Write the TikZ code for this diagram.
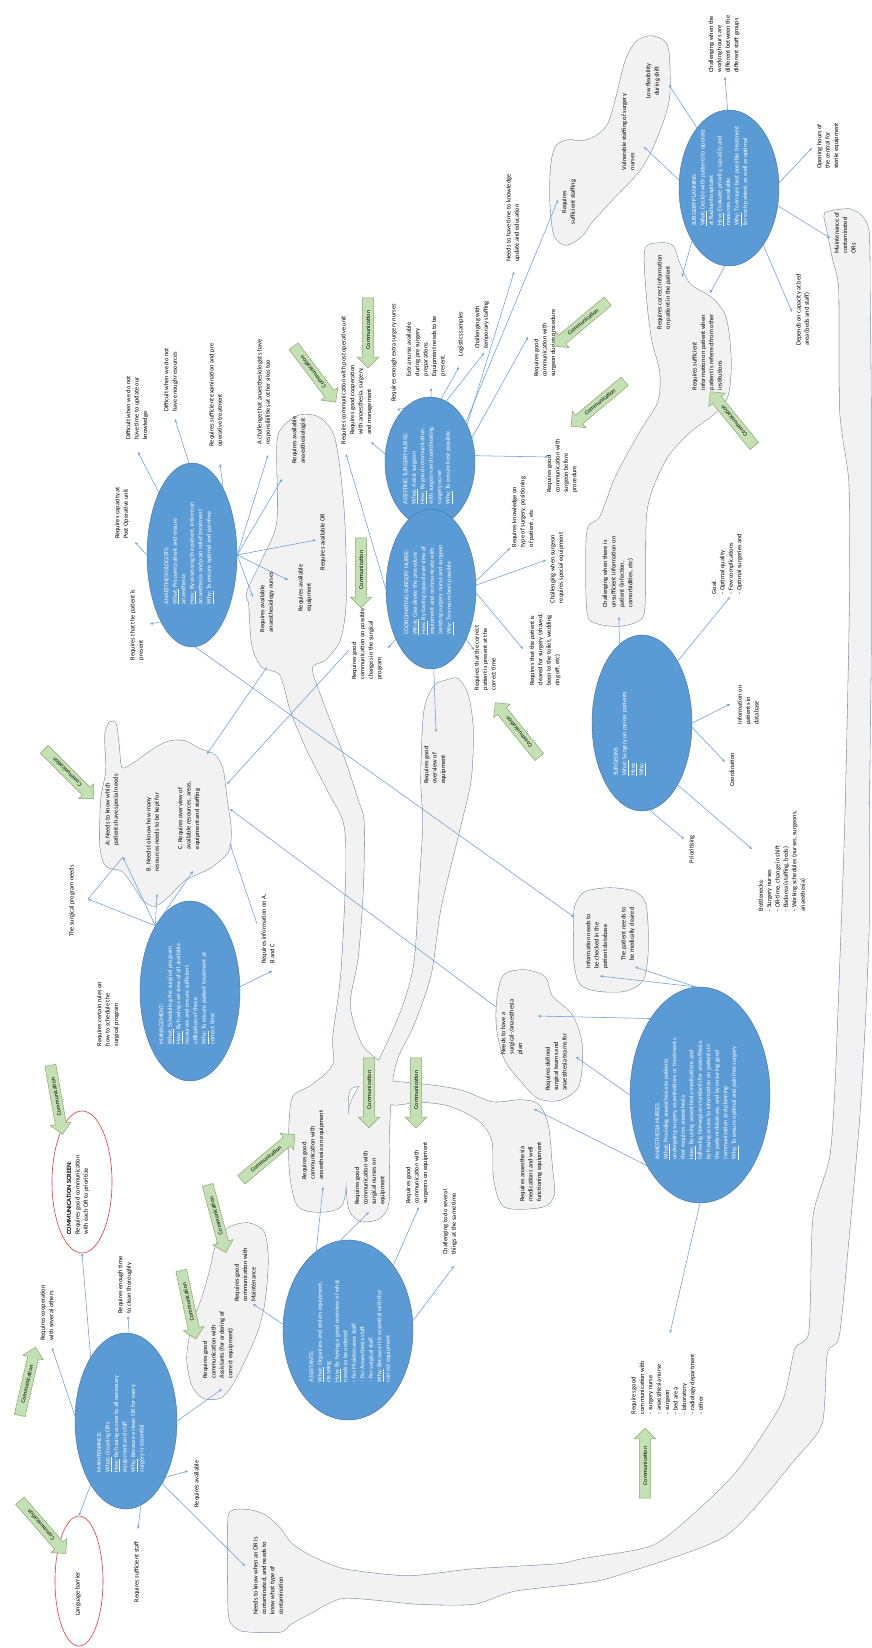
\documentclass[tikz,border=0pt]{standalone}
\usepackage{fontspec}
\setmainfont{Carlito}
\usetikzlibrary{shapes.geometric,shapes.arrows,arrows.meta}
\definecolor{ellblue}{HTML}{5B9BD5}
\definecolor{ellline}{HTML}{41719C}
\definecolor{connblue}{HTML}{6A9FD8}
\definecolor{blobfill}{HTML}{F2F2F2}
\definecolor{blobline}{HTML}{7F8FA6}
\definecolor{commfill}{HTML}{C5E0B4}
\definecolor{commline}{HTML}{86AA6C}
\definecolor{ringred}{HTML}{E8383D}
\newcommand\shpMaint{plot[smooth cycle,tension=0.4] coordinates {(825,213) (849,209) (862,216) (869,233) (870,300) (871,412) (871,645) (869,824) (869,924) (865,1024) (859,1124) (849,1236) (839,1336) (827,1353) (822,1423) (795,1459) (725,1536) (615,1576) (582,1583) (514,1591) (474,1604) (418,1604) (344,1598) (311,1613) (291,1624) (280,1632) (242,1631) (230,1621) (228,1600) (228,1520) (234,1510) (250,1510) (265,1515) (280,1528) (291,1543) (311,1556) (344,1569) (408,1576) (474,1569) (558,1564) (582,1559) (652,1546) (695,1513) (739,1469) (782,1403) (795,1349) (809,1333) (812,1236) (815,1207) (830,1157) (835,1091) (839,991) (845,824) (849,645) (850,562) (849,480) (840,412) (839,290) (833,260) (827,230)}}
\newcommand\shpStaff{plot[smooth cycle,tension=0.5] coordinates {(551,165) (556,146) (568,140) (582,141) (596,136) (608,124) (616,98) (625,62) (636,42) (650,36) (664,41) (669,55) (669,100) (656,140) (640,170) (612,200) (592,222) (582,236) (566,245) (554,235) (550,200)}}
\newcommand\shpInfo{plot[smooth cycle,tension=0.5] coordinates {(645,250) (660,243) (673,246) (679,262) (690,284) (712,298) (726,318) (731,360) (728,395) (715,413) (690,432) (668,456) (652,490) (646,520) (645,600) (641,619) (620,626) (596,623) (587,610) (587,532) (600,517) (616,476) (640,432) (658,402) (660,372) (652,340) (647,300)}}
\newcommand\shpAnae{plot[smooth cycle,tension=0.5] coordinates {(283,427) (300,415) (320,418) (335,440) (344,512) (346,599) (340,640) (325,660) (312,668) (322,700) (342,752) (358,800) (364,824) (363,891) (358,957) (350,1005) (362,1045) (385,1068) (372,1085) (350,1090) (348,1130) (347,1170) (342,1205) (320,1212) (298,1206) (290,1175) (289,1130) (293,1097) (312,1085) (333,1065) (333,1037) (341,974) (346,874) (344,824) (330,795) (308,752) (291,712) (280,675) (262,667) (252,645) (249,605) (247,592) (262,560) (277,522) (277,445)}}
\newcommand\shpEquip{plot[smooth cycle,tension=0.5] coordinates {(434,686) (447,680) (458,679) (468,695) (473,729) (471,779) (461,824) (441,907) (431,974) (414,1024) (398,1057) (392,1085) (389,1140) (389,1200) (380,1218) (360,1221) (348,1205) (346,1150) (350,1105) (365,1078) (378,1062) (401,1011) (414,964) (419,891) (423,824) (421,779) (424,712)}}
\newcommand\shpMed{plot[smooth cycle,tension=0.5] coordinates {(375,1082) (420,1084) (460,1090) (492,1102) (520,1100) (538,1104) (548,1125) (552,1165) (554,1195) (542,1207) (505,1207) (494,1180) (492,1140) (478,1120) (450,1106) (420,1102) (390,1104)}}
\newcommand\shpMgmt{plot[smooth cycle,tension=0.5] coordinates {(106,770) (105,735) (110,722) (116,724) (119,745) (122,768) (135,762) (155,748) (170,741) (185,741) (200,749) (215,755) (223,770) (227,800) (231,830) (228,852) (210,868) (185,880) (170,895) (155,906) (143,900) (133,885) (122,871) (106,866) (100,845) (101,800)}}
\newcommand\shpPlan{plot[smooth cycle,tension=0.5] coordinates {(497,1000) (504,975) (525,970) (545,977) (552,996) (572,1015) (582,1045) (579,1085) (560,1100) (538,1098) (520,1080) (505,1060) (497,1030)}}
\newcommand\shpCheck{plot[smooth cycle,tension=0.5] coordinates {(575,906) (585,892) (610,888) (635,892) (646,906) (648,950) (643,980) (625,991) (598,991) (580,984) (574,960) (574,925)}}
\newcommand\shpAsst{plot[smooth cycle,tension=0.5] coordinates {(228,1228) (248,1223) (264,1232) (268,1260) (265,1300) (258,1330) (245,1360) (232,1385) (220,1398) (203,1398) (192,1385) (187,1358) (192,1325) (202,1298) (210,1270) (216,1245)}}
\begin{document}
\begin{tikzpicture}[x=1pt,y=-1pt,
  blobedge/.style={draw=blobline,line width=1.1pt},
  blobbody/.style={fill=blobfill},
  bell/.style={ellipse,fill=ellblue,draw=ellline,line width=0.4pt,inner sep=0pt},
  etext/.style={rotate=90,text=white,font=\fontsize{6.2}{8.5}\selectfont,align=left,inner sep=0pt},
  lbl/.style={rotate=90,font=\fontsize{6.4}{8.4}\selectfont,align=left,inner sep=0pt},
  clbl/.style={lbl,align=center},
  conn/.style={draw=connblue,line width=0.55pt,-{Stealth[length=3.2pt,width=2.6pt]}},
  plain/.style={draw=connblue,line width=0.55pt},
  comm/.style={single arrow,draw=commline,fill=commfill,line width=0.5pt,font=\fontsize{6}{6.5}\selectfont,minimum height=70pt,single arrow head extend=5pt,inner xsep=2pt,inner ysep=3.2pt},
  ring/.style={ellipse,draw=ringred,line width=0.6pt,inner sep=0pt}]
\useasboundingbox (0,0) rectangle (872,1648);
\fill[white] (0,0) rectangle (872,1648);

% ---------- blobs: borders then fills ----------
\draw[blobedge] \shpMaint;
\draw[blobedge] \shpStaff;
\draw[blobedge] \shpInfo;
\draw[blobedge] \shpAnae;
\draw[blobedge] \shpEquip;
\draw[blobedge] \shpMed;
\draw[blobedge] \shpMgmt;
\draw[blobedge] \shpPlan;
\draw[blobedge] \shpCheck;
\draw[blobedge] \shpAsst;
\fill[blobbody] \shpMaint;
\fill[blobbody] \shpStaff;
\fill[blobbody] \shpInfo;
\fill[blobbody] \shpAnae;
\fill[blobbody] \shpEquip;
\fill[blobbody] \shpMed;
\fill[blobbody] \shpMgmt;
\fill[blobbody] \shpPlan;
\fill[blobbody] \shpCheck;
\fill[blobbody] \shpAsst;

% ---------- ellipses ----------
\node[bell,minimum width=100pt,minimum height=156pt] (E1) at (729,188) {};
\node[bell,minimum width=90pt,minimum height=130pt] (E2) at (430,462) {};
\node[bell,minimum width=90pt,minimum height=160pt] (E3) at (431,589) {};
\node[bell,minimum width=90pt,minimum height=184pt] (E4) at (192,555) {};
\node[bell,minimum width=100pt,minimum height=180pt] (E5) at (190,991) {};
\node[bell,minimum width=100pt,minimum height=176pt] (E6) at (642,723) {};
\node[bell,minimum width=140pt,minimum height=216pt] (E7) at (700,1095) {};
\node[bell,minimum width=130pt,minimum height=180pt] (E8) at (348,1330) {};
\node[bell,minimum width=102pt,minimum height=176pt] (E9) at (126,1421) {};
\node[ring,minimum width=60pt,minimum height=142pt] (R1) at (82,1182) {};
\node[ring,minimum width=48pt,minimum height=130pt] (R2) at (79,1581) {};

% ---------- connector end points ----------
\coordinate (a1) at (669,85);  \coordinate (a2) at (644,147);
\coordinate (a3) at (725,77);  \coordinate (a4) at (812,148);
\coordinate (a5) at (830,238); \coordinate (a6) at (792,312);
\coordinate (a7) at (682,277); \coordinate (a8) at (710,293);
\coordinate (b1) at (514,272); \coordinate (b2) at (558,200);
\coordinate (b3) at (528,337); \coordinate (b4) at (484,353);
\coordinate (b5) at (459,367); \coordinate (b6) at (431,388);
\coordinate (b7) at (397,410); \coordinate (b8) at (371,442);
\coordinate (b9) at (548,457);
\coordinate (c1) at (510,548); \coordinate (c2) at (546,560);
\coordinate (c3) at (523,649); \coordinate (c4) at (474,650);
\coordinate (c5) at (388,648); \coordinate (c6) at (436,732);
\coordinate (c7) at (346,454);
\coordinate (d1) at (135,542); \coordinate (d2) at (150,624);
\coordinate (d3) at (138,452); \coordinate (d4) at (175,419);
\coordinate (d5) at (220,464); \coordinate (d6) at (268,455);
\coordinate (d7) at (282,479); \coordinate (d8) at (316,540);
\coordinate (d9) at (288,580); \coordinate (d10) at (253,597);
\coordinate (d11) at (574,917);
\coordinate (e1) at (123,857); \coordinate (e2) at (157,894);
\coordinate (e3) at (193,871); \coordinate (e4) at (88,899);
\coordinate (e5) at (272,971); \coordinate (e6) at (257,924);
\coordinate (e7) at (230,844);
\coordinate (f1) at (619,617); \coordinate (f2) at (730,597);
\coordinate (f3) at (730,704); \coordinate (f4) at (725,762);
\coordinate (f5) at (684,839); \coordinate (f6) at (752,849);
\coordinate (g1) at (600,976); \coordinate (g2) at (635,967);
\coordinate (g3) at (538,1016); \coordinate (g4) at (576,1057);
\coordinate (g5) at (534,1109); \coordinate (g6) at (670,1333);
\coordinate (h1) at (230,809); \coordinate (h2) at (496,1007);
\coordinate (h3) at (207,754); \coordinate (h4) at (267,667);
\coordinate (h5) at (227,784); \coordinate (h6) at (349,650);
\coordinate (k1) at (323,1187); \coordinate (k2) at (369,1212);
\coordinate (k3) at (419,1207); \coordinate (k4) at (454,1266);
\coordinate (k5) at (253,1304);
\coordinate (m1) at (128,1316); \coordinate (m3) at (52,1348);
\coordinate (m5) at (138,1529); \coordinate (m6) at (188,1471);
\coordinate (m7) at (245,1566); \coordinate (m8) at (222,1389);

% ---------- connectors ----------
\draw[conn] (E1.118) -- (a1);
\draw[conn] (E1.171) -- (a2);
\draw[conn] (E1.91) -- (a3);
\draw[conn] (E1.6) -- (a4);
\draw[conn] (E1.-20) -- (a5);
\draw[conn] (E1.-59) -- (a6);
\draw[conn] (E1.235) -- (a7);
\draw[conn] (E1.267) -- (a8);

\draw[conn] (E2.45) -- (b1);
\draw[conn] (E2.48) -- (b2);
\draw[conn] (E2.30) -- (b3);
\draw[conn] (E2.75) -- (b4);
\draw[conn] (E2.80) -- (b5);
\draw[conn] (E2.89) -- (b6);
\draw[conn] (E2.115) -- (b7);
\draw[conn] (E2.170) -- (b8);
\draw[conn] (E2.8) -- (b9);

\draw[conn] (E3.10) -- (c1);
\draw[conn] (E3.5) -- (c2);
\draw[conn] (E3.-5) -- (c3);
\draw[conn] (E3.-55) -- (c4);
\draw[conn] (E3.235) -- (c5);
\draw[conn] (E3.272) -- (c6);
\draw[conn] (E3.180) -- (c7);

\draw[conn] (E4.180) -- (d1);
\draw[conn] (E4.245) -- (d2);
\draw[conn] (E4.118) -- (d3);
\draw[conn] (E4.92) -- (d4);
\draw[conn] (E4.65) -- (d5);
\draw[conn] (E4.0) -- (d6);
\draw[conn] (E4.0) -- (d7);
\draw[conn] (E4.0) -- (d8);
\draw[conn] (E4.0) -- (d9);
\draw[conn] (E4.0) -- (d10);
\draw[conn] (E4.-88) -- (d11);

\draw[conn] (E5.118) -- (e1);
\draw[conn] (E5.118) -- (e2);
\draw[conn] (E5.118) -- (e3);
\draw[conn] (E5.118) -- (e4);
\draw[plain] (e4) -- (e1);
\draw[conn] (E5.5) -- (e5);
\draw[conn] (e6) -- (e7);

\draw[conn] (E6.106) -- (f1);
\draw[conn] (E6.60) -- (f2);
\draw[conn] (E6.0) -- (f3);
\draw[conn] (E6.-5) -- (f4);
\draw[conn] (E6.-85) -- (f5);
\draw[conn] (E6.-60) -- (f6);

\draw[conn] (E7.92) -- (g1);
\draw[conn] (E7.92) -- (g2);
\draw[conn] (E7.123) -- (g3);
\draw[conn] (E7.180) -- (g4);
\draw[conn] (E7.233) -- (g5);
\draw[conn] (E7.270) -- (g6);

\draw[conn] (h2) -- (h1);
\draw[conn] (h4) -- (h3);
\draw[conn] (h6) -- (h5);

\draw[conn] (E8.112) -- (k1);
\draw[conn] (E8.95) -- (k2);
\draw[conn] (E8.55) -- (k3);
\draw[conn] (E8.8) -- (k4);
\draw[conn] (E8.175) -- (k5);

\draw[conn] (E9.88) -- (m1);
\draw[conn] (E9.119) -- (R1.south);
\draw[conn] (E9.174) -- (m3);
\draw[conn] (E9.241) -- (R2.north);
\draw[conn] (E9.-80) -- (m5);
\draw[conn] (E9.-55) -- (m6);
\draw[conn] (E9.-60) -- (m7);
\draw[conn] (E9.0) -- (m8);

% ---------- ellipse texts ----------
\node[etext] (X1) at (720,176) {SURGERY PLANNING\\\underline{What:} Decide with patients to operate\\at Radiumhospitalet\\\underline{How:} Evaluate priority, capacity and\\resources available\\\underline{Why:} To ensure best possible treatment\\for each patient, as well as optimal};
\node[etext] (X2) at (428,466) {ASSISTING SURGERY NURSE:\\\underline{What:} Assist surgeon\\\underline{How:} By good communication\\with surgeon and coordinating\\surgery nurse\\\underline{Why:} To ensure best possible};
\node[etext] (X3) at (429,590) {COORDINATING SURGERY NURSE:\\\underline{What:} Coordinate the procedure\\\underline{How:} By having a good overview of\\equipment and communicate with\\assisting surgery nurse and surgeon\\\underline{Why:} To ensure best possible};
\node[etext] (X4) at (189,553) {ANAESTHESIOLOGISTS:\\\underline{What:} Prepare patient and ensure\\anaesthesia\\\underline{How:} By assessing the patient, inform on\\anaesthesia and pain relief treatment\\\underline{Why:} To ensure optimal and painfree};
\node[etext] (X5) at (187,994) {MANAGEMENT:\\\underline{What:} Scheduling the surgical program\\\underline{How:} By having overview of all available\\resources and ensure sufficient\\utilization of these\\\underline{Why:} To ensure patient treatment at\\correct time};
\node[etext] (X6) at (630,734) {SURGEONS\\\underline{What:} Surgery on cancer patients\\\underline{How:}\\\underline{Why:}};
\node[etext] (X7) at (697,1099) {ANAESTHESIA NURSES\\\underline{What:} Providing anaesthesia to patients\\undergoing surgery, examinations or treatments\\that requires anaesthesia\\\underline{How:} By using anaesthesia medications and\\following Norwegian standards for anaesthesia,\\by having access to information on patients in\\the patient database, and by ensuring good\\communication and planning\\\underline{Why:} To ensure optimal and painfree surgery};
\node[etext] (X8) at (350,1331) {ASSISTANTS:\\\underline{What:} Organizes and orders equipment,\\cleaning\\\underline{How:} By having a good overview of what\\needs to be ordered:\\- For Maintenance staff\\- For Anaesthesia staff\\- For surgical staff\\\underline{Why:} Because it is essential with the\\correct equipment};
\node[etext] (X9) at (121,1424) {MAINTENANCE:\\\underline{What:} Cleaning ORs\\\underline{How:} By having access to all necessary\\equipment and staff\\\underline{Why:} Because a clean OR for every\\surgery is essential};

% ---------- labels ----------
\node[lbl] (T1) at (724,44) {Challenging when the\\working hours are\\different between the\\different staff groups};
\node[clbl] (T2) at (653,81) {Low flexibility\\during shift};
\node[lbl] (T3) at (628,132) {Vulnerable staffing of surgery\\nurses};
\node[lbl] (T4) at (828,146) {Opening hours of\\the central for\\sterile equipment};
\node[lbl] (T5) at (845,233) {Maintenance of\\contaminated\\ORs};
\node[lbl] (T6) at (803,310) {Depends on capacity at bed\\area (beds and staff)};
\node[lbl] (T7) at (664,292) {Requires correct information\\on patient in the patient};
\node[lbl] (T8) at (707,352) {Requires sufficient\\information on patient when\\patient is referred from other\\institutions};
\node[clbl] (T9) at (569,202) {Requires\\sufficient staffing};
\node[lbl] (T10) at (513,218) {Needs to have time to knowledge\\update and education};
\node[lbl] (T11) at (545,343) {Requires good\\communication with\\surgeon during procedure};
\node[lbl] (T12) at (482,325) {Challenging with\\temporary staffing};
\node[lbl] (T13) at (461,334) {Logistics samples};
\node[lbl] (T14) at (426,346) {Extra nurse available\\during pre surgery\\preparations.\\Equipment needs to be\\present.};
\node[lbl] (T15) at (394,353) {Requires enough extra surgery nurses};
\node[lbl] (T16) at (361,400) {Requires good cooperation\\with anaesthesia, surgery,\\and management};
\node[lbl] (T17) at (344,380) {Requires communication with post operative unit};
\node[lbl] (T19) at (367,644) {Requires good\\communication on possible\\changes in the surgical\\program};
\node[lbl] (T20) at (323,542) {Requires available OR};
\node[lbl] (T21) at (305,588) {Requires available\\equipment};
\node[lbl] (T22) at (299,440) {Requires available\\anaesthesiologist};
\node[lbl] (T23) at (267,602) {Requires available\\anaesthesiology nurses};
\node[lbl] (T24) at (523,512) {Requires knowledge on\\type of surgery, positioning\\of patient , etc};
\node[lbl] (T25) at (557,568) {Challenging when surgeon\\requires special equipment};
\node[lbl] (T26) at (485,658) {Requires that the correct\\patient is present at the\\correct time};
\node[lbl] (T27) at (545,650) {Requires that the patient is\\cleared for surgery (shaved,\\been to the toilet, wedding\\ring off, etc)};
\node[lbl] (T28) at (435,765) {Requires good\\overview of\\equipment};
\node[lbl] (T29) at (562,466) {Requires good\\communication with\\surgeon before\\procedure};
\node[lbl] (T30) at (122,513) {Requires capacity at\\Post Operative unit};
\node[lbl] (T31) at (137,625) {Requires that the patient is\\present};
\node[lbl] (T32) at (137,408) {Difficult when we do not\\have time to update our\\knowledge};
\node[lbl] (T33) at (171,380) {Difficult when we do not\\have enough resources};
\node[lbl] (T34) at (216,395) {Requires sufficient examination and pre\\operative treatment};
\node[lbl] (T35) at (264,392) {A challenge that anaesthesiologists have\\responsibilities at other sites too};
\node[lbl] (T36) at (72,901) {The surgical program needs};
\node[lbl] (T37) at (108,1014) {Requires certain rules on\\how to schedule the\\surgical program};
\node[lbl] (T38) at (268,929) {Requires information on A,\\B and C};
\node[lbl] (TA) at (112,810) {A: Needs to know which\\patients have special needs};
\node[lbl] (TB) at (153,832) {B. Needs to know how many\\resources needs to be kept for};
\node[lbl] (TC) at (189,815) {C. Requires overview of\\available resources, areas,\\equipment and staffing};
\node[lbl] (T39) at (78,1195) {\textbf{COMMUNICATION SCREEN:}\\Requires good communication\\with each OR to prioritize};
\node[lbl] (T40) at (47,1313) {Requires cooperation\\with several others};
\node[lbl] (T41) at (125,1285) {Requires enough time\\to clean thoroughly};
\node[lbl] (T42) at (218,1345) {Requires good\\communication with\\Assistants (for ordering of\\correct equipment)};
\node[lbl] (T43) at (245,1275) {Requires good\\communication with\\Maintenance};
\node[lbl] (T44) at (197,1484) {Requires available};
\node[lbl] (T45) at (137,1572) {Requires sufficient staff};
\node[lbl] (T46) at (78,1594) {Language barrier};
\node[lbl] (T47) at (268,1576) {Needs to know when an OR is\\contaminated, and needs to\\know what type of\\contamination};
\node[lbl] (T48) at (313,1145) {Requires good\\communication with\\anaesthesia on equipment};
\node[lbl] (T49) at (370,1178) {Requires good\\communication with\\surgical nurses on\\equipment};
\node[lbl] (T50) at (417,1173) {Requires good\\communication with\\surgeons on equipment};
\node[lbl] (T51) at (450,1222) {Challenging to do several\\things at the same time};
\node[lbl] (T52) at (531,1172) {Requires anaesthesia\\medications and well\\functioning equipment};
\node[lbl] (T53) at (512,1027) {Needs to have a\\surgical-/anaesthesia\\plan};
\node[lbl] (T54) at (556,1062) {Requires defined\\surgical teams and\\anaesthesia teams for};
\node[lbl] (T55) at (597,941) {Information needs to\\be checked in the\\patient database};
\node[lbl] (T56) at (628,934) {The patient needs to\\be medically cleared};
\node[lbl] (T57) at (692,849) {Prioritising};
\node[lbl] (T58) at (782,861) {Bottlenecks:\\- Surgery nurses\\- OR-time, change in shift\\- Badarea (staffing, beds)\\- Working schedules (nurses, surgeons,\\anaesthesia)};
\node[lbl] (T59) at (618,572) {Challenging when there is\\unsufficient information on\\patient (infection,\\comorbidities, etc)};
\node[lbl] (T60) at (727,564) {Goal:\\- Optimal quality\\- Few complications\\- Optimal surgeries and};
\node[lbl] (T61) at (748,705) {Information on\\patients in\\database};
\node[lbl] (T62) at (732,770) {Coordination};
\node[lbl] (T63) at (667,1384) {Requires good\\communication with\\- surgery nurse\\- anaesthesia nurse\\- surgeon\\- bed area\\- laboratory\\- radiology department\\- other};

% ---------- communication arrows ----------
\node[comm,rotate=127,shape border rotate=180] (C1) at (313,372) {Communication};
\node[comm,rotate=90,shape border rotate=180] (C2) at (368,330) {Communication};
\node[comm,rotate=40,shape border rotate=180] (C3) at (583,322) {Communication};
\node[comm,rotate=40,shape border rotate=180] (C4) at (600,402) {Communication};
\node[comm,rotate=129] (C5) at (734,421) {Communication};
\node[comm,rotate=90,shape border rotate=180] (C6) at (361,570) {Communication};
\node[comm,rotate=129] (C7) at (519,732) {Communication};
\node[comm,rotate=135,shape border rotate=180] (C8) at (67,772) {Communication};
\node[comm,rotate=100,shape border rotate=180] (C9) at (56,1097) {Communication};
\node[comm,rotate=40] (C10) at (266,1159) {Communication};
\node[comm,rotate=105,shape border rotate=180] (C11) at (216,1216) {Communication};
\node[comm,rotate=102,shape border rotate=180] (C12) at (188,1302) {Communication};
\node[comm,rotate=77] (C13) at (27,1384) {Communication};
\node[comm,rotate=131,shape border rotate=180] (C14) at (41,1525) {Communication};
\node[comm,rotate=90] (C15) at (645,1466) {Communication};
\node[comm,rotate=90,shape border rotate=180] (C16) at (369,1090) {Communication};
\node[comm,rotate=90,shape border rotate=180] (C17) at (416,1090) {Communication};
\end{tikzpicture}
\end{document}
